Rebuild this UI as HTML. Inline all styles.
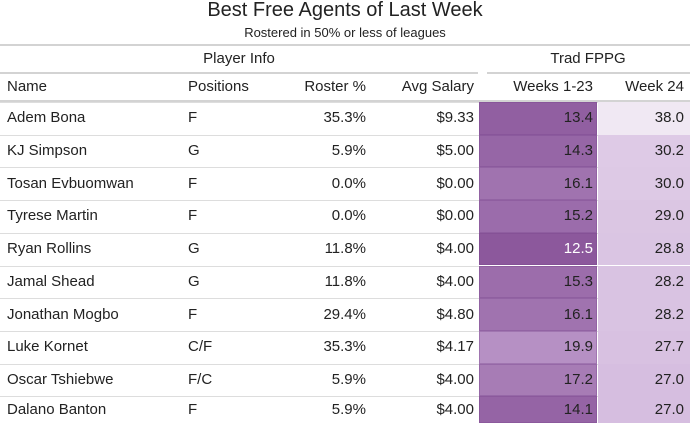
<!DOCTYPE html>
<html><head><meta charset="utf-8"><style>
body{margin:0;background:#fff;font-family:"Liberation Sans",sans-serif;color:#222;}
#wrap{position:relative;width:690px;height:447px;overflow:hidden;}
.t{position:absolute;white-space:nowrap;font-size:15px;}
.ln{position:absolute;}
</style></head><body>
<div id="wrap">
<div class="t" style="left:0;width:690px;text-align:center;top:-1px;font-size:20px;">Best Free Agents of Last Week</div>
<div class="t" style="left:0;width:690px;text-align:center;top:25px;font-size:13px;">Rostered in 50% or less of leagues</div>
<div class="ln" style="left:0;top:44px;width:690px;height:2px;background:#d3d3d3"></div>
<div class="t" style="left:0;width:478px;text-align:center;top:50px;">Player Info</div>
<div class="t" style="left:487px;width:202px;text-align:center;top:50px;">Trad FPPG</div>
<div class="ln" style="left:0;top:72px;width:478px;height:2px;background:#d3d3d3"></div>
<div class="ln" style="left:487px;top:72px;width:203px;height:2px;background:#d3d3d3"></div>
<div class="t" style="left:7px;top:78px">Name</div>
<div class="t" style="left:188px;top:78px">Positions</div>
<div class="t" style="right:324px;top:78px">Roster %</div>
<div class="t" style="right:216px;top:78px">Avg Salary</div>
<div class="t" style="right:97px;top:78px">Weeks 1-23</div>
<div class="t" style="right:6px;top:78px">Week 24</div>
<div class="ln" style="left:0;top:100px;width:690px;height:2px;background:#d3d3d3"></div>
<div id="rows"></div>
</div>
<script>
const names=["Adem Bona","KJ Simpson","Tosan Evbuomwan","Tyrese Martin","Ryan Rollins","Jamal Shead","Jonathan Mogbo","Luke Kornet","Oscar Tshiebwe","Dalano Banton"];
const positions=["F","G","F","F","G","G","F","C/F","F/C","F"];
const rosterPct=["35.3%","5.9%","0.0%","0.0%","11.8%","11.8%","29.4%","35.3%","5.9%","5.9%"];
const salary=["$9.33","$5.00","$0.00","$0.00","$4.00","$4.00","$4.80","$4.17","$4.00","$4.00"];
const weeks123=[13.4,14.3,16.1,15.2,12.5,15.3,16.1,19.9,17.2,14.1];
const week24=[38.0,30.2,30.0,29.0,28.8,28.2,28.2,27.7,27.0,27.0];
function mix(a,b,t){return 'rgb('+a.map((v,i)=>Math.round(v+(b[i]-v)*t)).join(',')+')';}
const wrap=document.getElementById('rows');
const top0=102,rh=32.7,maxY=423;
const wMin=Math.min(...weeks123),wMax=Math.max(...weeks123);
const kMin=Math.min(...week24),kMax=Math.max(...week24);
names.forEach((n,i)=>{
  const y=top0+i*rh;const h=Math.min(rh,maxY-y);
  const r=document.createElement('div');
  
  
  r.style.cssText=`position:absolute;left:0;top:${y}px;width:690px;height:${h}px;`;
  const tw=(weeks123[i]-wMin)/(wMax-wMin);
  const tk=(week24[i]-kMin)/(kMax-kMin);
  const c1=mix([140,88,156],[182,144,196],tw);
  const c2=mix([214,190,224],[240,232,243],tk);
  const ty=(h/2-9);
  r.innerHTML=
   `<div class="ln" style="left:0;top:0;width:690px;height:1px;background:#ddd"></div>`+
   `<div class="ln" style="left:479px;top:0;width:118px;height:${h}px;background:${c1};box-shadow:inset 0 0 0 1px rgba(120,70,140,.35)"></div>`+
   `<div class="ln" style="left:598px;top:0;width:92px;height:${h}px;background:${c2}"></div>`+
   `<div class="t" style="left:7px;top:${ty}px">${n}</div>`+
   `<div class="t" style="left:188px;top:${ty}px">${positions[i]}</div>`+
   `<div class="t" style="right:324px;top:${ty}px">${rosterPct[i]}</div>`+
   `<div class="t" style="right:216px;top:${ty}px">${salary[i]}</div>`+
   `<div class="t" style="right:97px;top:${ty}px;color:${weeks123[i]<13?'#fff':'#222'}">${weeks123[i].toFixed(1)}</div>`+
   `<div class="t" style="right:6px;top:${ty}px">${week24[i].toFixed(1)}</div>`;
  wrap.appendChild(r);
});
</script>
</body></html>
